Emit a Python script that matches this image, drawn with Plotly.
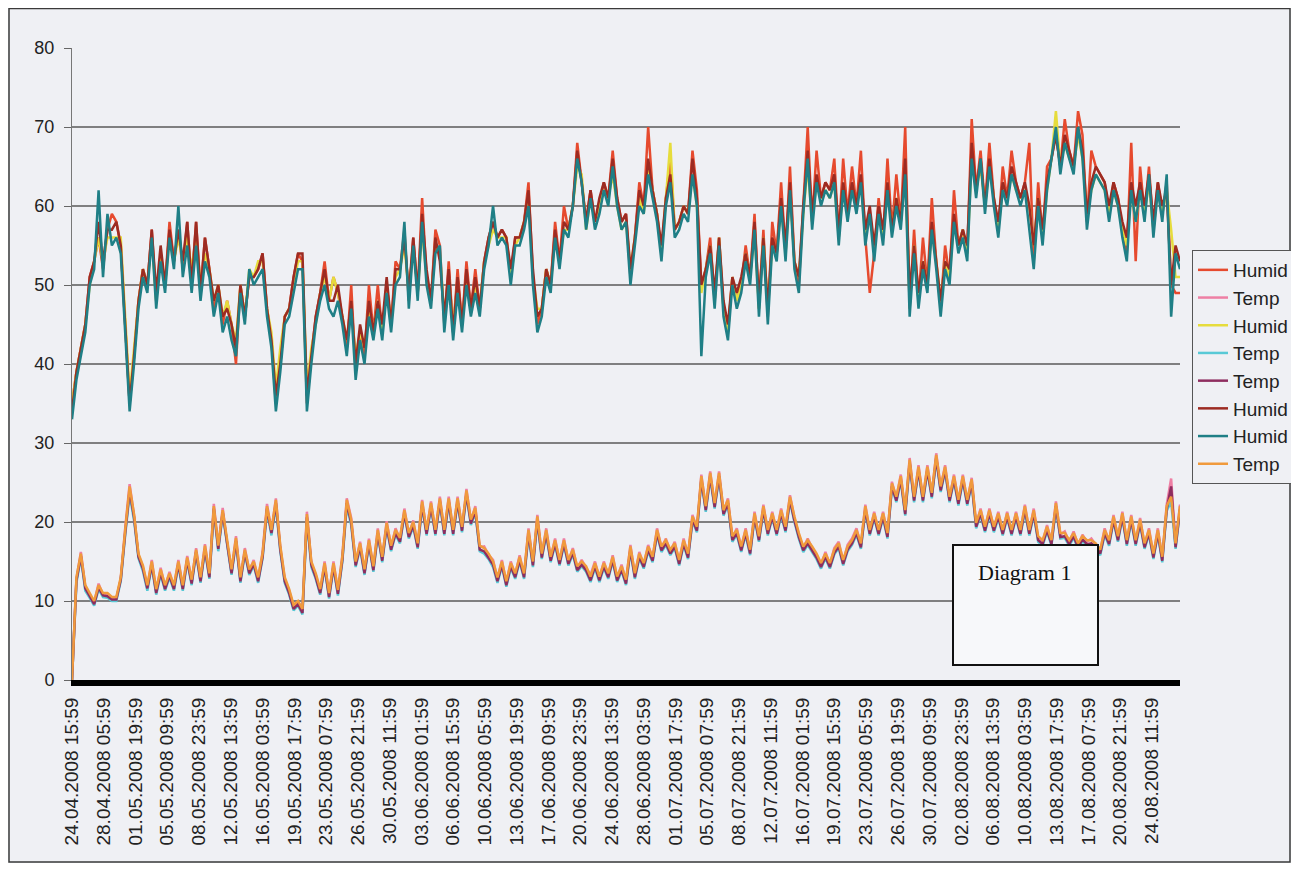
import pandas as pd
import plotly.graph_objects as go

tick_labels = [
    "24.04.2008 15:59", "28.04.2008 05:59", "01.05.2008 19:59", "05.05.2008 09:59",
    "08.05.2008 23:59", "12.05.2008 13:59", "16.05.2008 03:59", "19.05.2008 17:59",
    "23.05.2008 07:59", "26.05.2008 21:59", "30.05.2008 11:59", "03.06.2008 01:59",
    "06.06.2008 15:59", "10.06.2008 05:59", "13.06.2008 19:59", "17.06.2008 09:59",
    "20.06.2008 23:59", "24.06.2008 13:59", "28.06.2008 03:59", "01.07.2008 17:59",
    "05.07.2008 07:59", "08.07.2008 21:59", "12.07.2008 11:59", "16.07.2008 01:59",
    "19.07.2008 15:59", "23.07.2008 05:59", "26.07.2008 19:59", "30.07.2008 09:59",
    "02.08.2008 23:59", "06.08.2008 13:59", "10.08.2008 03:59", "13.08.2008 17:59",
    "17.08.2008 07:59", "20.08.2008 21:59", "24.08.2008 11:59",
]

y_ticks = [0, 10, 20, 30, 40, 50, 60, 70, 80]
grid_levels = [10, 20, 30, 40, 50, 60, 70]

hum_red = [
    35, 39, 42, 45, 51, 53, 56, 52, 57, 59,
    58, 55, 45, 35, 41, 48, 52, 50, 57, 48,
    54, 50, 58, 53, 57, 52, 58, 50, 58, 49,
    56, 52, 47, 50, 45, 48, 45, 40, 50, 46,
    51, 51, 52, 54, 47, 43, 35, 40, 46, 47,
    51, 54, 53, 35, 41, 46, 49, 53, 48, 51,
    49, 46, 42, 50, 39, 44, 41, 50, 44, 50,
    44, 50, 45, 53, 52, 57, 48, 56, 49, 61,
    51, 48, 57, 55, 45, 53, 44, 52, 45, 53,
    47, 52, 47, 53, 56, 58, 56, 57, 56, 51,
    56, 56, 58, 63, 51, 45, 47, 52, 50, 58,
    53, 60, 57, 60, 68, 63, 58, 62, 58, 60,
    63, 61, 67, 61, 58, 59, 51, 56, 63, 60,
    70, 62, 59, 54, 61, 66, 57, 58, 60, 59,
    67, 62, 50, 52, 56, 48, 56, 47, 44, 51,
    48, 50, 55, 51, 59, 47, 57, 46, 58, 54,
    63, 54, 65, 53, 50, 60, 70, 58, 67, 61,
    63, 62, 66, 56, 66, 59, 65, 60, 67, 56,
    49, 54, 61, 56, 66, 57, 64, 58, 70, 47,
    57, 48, 56, 50, 61, 53, 47, 55, 51, 62,
    55, 57, 54, 71, 62, 67, 60, 68, 61, 57,
    65, 61, 67, 63, 61, 63, 68, 53, 63, 56,
    65, 66, 69, 65, 71, 67, 65, 72, 69, 58,
    67, 65, 64, 63, 59, 63, 61, 57, 54, 68,
    53, 65, 59, 65, 57, 63, 59, 63, 50, 49,
    49,
]

temp_pink = [
    0, 12.8, 16.2, 11.8, 10.8, 9.8, 12.2, 10.8, 10.8, 10.3,
    10.3, 12.8, 19.2, 24.8, 20.8, 15.8, 14.3, 11.8, 15.2, 11.3,
    14.2, 11.8, 13.7, 11.8, 15.2, 11.8, 15.7, 12.5, 16.7, 12.8,
    17.2, 13.3, 22.3, 16.8, 21.8, 17.3, 13.8, 18.2, 12.8, 16.7,
    13.8, 15.2, 12.8, 16.2, 22.3, 18.8, 23, 16.8, 12.8, 11.3,
    9.3, 9.8, 8.8, 21.3, 14.8, 13.3, 11.3, 15, 10.8, 15,
    11.2, 15.8, 23, 20.5, 14.8, 17.5, 13.8, 17.9, 14.2, 19.2,
    15.4, 20.1, 16.8, 19.2, 17.8, 21.7, 18.4, 20.2, 17.1, 22.8,
    18.8, 22.6, 18.8, 23.2, 18.8, 23.2, 18.8, 23.2, 19.2, 24.2,
    20.1, 22, 16.8, 16.9, 15.8, 15.2, 12.8, 15.2, 12.3, 15,
    13.3, 15.8, 13.3, 19.2, 14.8, 20.9, 15.8, 19.2, 15.4, 17.9,
    15, 17.9, 15, 16.7, 14.2, 15.2, 14.2, 13.3, 15, 12.9,
    15, 13.3, 15.8, 12.9, 14.6, 12.5, 17.1, 13.3, 16.2, 14.6,
    17.1, 15.4, 19.2, 16.7, 17.9, 16.3, 17.5, 15, 17.9, 15.8,
    20.9, 19.2, 26, 21.8, 26.4, 22.2, 26.4, 21.3, 23, 18,
    19.2, 16.7, 19.2, 16.3, 21.3, 18, 22.2, 18.8, 21.3, 18.8,
    21.7, 19.2, 23.4, 20.5, 18.4, 16.7, 17.9, 16.7, 15.8, 14.6,
    16.2, 14.6, 16.7, 17.5, 15, 17.1, 17.9, 19.2, 17.1, 22.2,
    18.8, 21.3, 18.8, 21.3, 18.4, 25.1, 23, 26, 21.3, 28.1,
    23, 27.2, 23, 27.2, 23.5, 28.7, 24.3, 27.2, 23, 26,
    22.6, 26, 22.6, 25.6, 19.7, 21.7, 19.2, 21.7, 19.2, 21.3,
    18.8, 21.3, 18.8, 21.3, 18.8, 22.2, 18.8, 21.7, 18, 17.5,
    19.6, 17.5, 22.6, 18.4, 18.8, 17.5, 18.8, 17.1, 18.4, 17.5,
    17.9, 17.1, 16.3, 19.2, 17.5, 20.9, 18, 21.3, 17.5, 20.9,
    17.5, 20.5, 17.1, 19.2, 15.8, 19.2, 15.4, 22.2, 25.5, 17.1,
    22.2,
]

hum_yellow = [
    35, 39, 42, 45, 50, 53, 56, 53, 56, 56,
    56, 56, 46, 36, 42, 48, 52, 50, 56, 48,
    54, 50, 56, 53, 56, 53, 56, 52, 56, 50,
    54, 52, 48, 50, 46, 48, 45, 43, 50, 46,
    52, 51, 53, 53, 47, 44, 37, 42, 46, 47,
    50, 53, 53, 37, 42, 45, 49, 51, 48, 51,
    49, 46, 43, 47, 41, 44, 42, 47, 44, 48,
    44, 50, 45, 51, 52, 55, 49, 55, 49, 57,
    51, 48, 55, 54, 46, 51, 45, 50, 45, 51,
    47, 50, 47, 53, 55, 57, 56, 56, 56, 51,
    55, 56, 58, 61, 51, 47, 47, 52, 50, 56,
    53, 57, 57, 60, 65, 64, 57, 61, 58, 60,
    62, 61, 64, 60, 57, 58, 52, 56, 61, 59,
    65, 62, 59, 54, 61, 68, 57, 58, 60, 59,
    64, 60, 49, 52, 55, 48, 56, 47, 44, 51,
    48, 50, 54, 51, 57, 47, 56, 47, 55, 54,
    60, 54, 62, 53, 51, 59, 65, 58, 63, 61,
    62, 61, 63, 56, 62, 59, 62, 60, 63, 56,
    59, 55, 59, 56, 62, 57, 61, 58, 64, 48,
    55, 48, 53, 50, 57, 53, 48, 53, 51, 58,
    55, 57, 54, 66, 62, 65, 60, 65, 61, 57,
    62, 61, 64, 62, 61, 62, 60, 55, 61, 56,
    62, 66, 72, 65, 68, 66, 65, 69, 66, 59,
    62, 64, 63, 62, 59, 62, 60, 57, 55, 62,
    58, 62, 59, 63, 57, 62, 59, 62, 57, 51,
    51,
]

temp_cyan = [
    0, 12.3, 15.5, 11.3, 10.4, 9.4, 11.5, 10.5, 10.4, 10,
    10, 12.5, 18.3, 23.5, 20.2, 15.4, 13.8, 11.3, 14.4, 10.8,
    13.4, 11.3, 13, 11.3, 14.5, 11.3, 15, 12, 16, 12.3,
    16.4, 12.8, 21.4, 16.3, 21, 16.8, 13.3, 17.4, 12.3, 16,
    13.3, 14.5, 12.3, 15.4, 21.4, 18.3, 22, 16.3, 12.3, 10.8,
    8.8, 9.4, 8.3, 20.2, 14.3, 12.8, 10.8, 14.2, 10.3, 14.2,
    10.7, 15, 22, 19.6, 14.3, 16.7, 13.3, 17.1, 13.7, 18.4,
    14.9, 19.3, 16.3, 18.4, 17.3, 20.9, 17.9, 19.4, 16.6, 21.9,
    18.3, 21.8, 18.3, 22.4, 18.3, 22.4, 18.3, 22.4, 18.7, 23.4,
    19.6, 21.2, 16.3, 16, 15.3, 14.3, 12.3, 14.4, 11.8, 14.2,
    12.8, 15, 12.8, 18.3, 14.3, 20, 15.3, 18.4, 14.9, 17.1,
    14.5, 17.1, 14.5, 15.9, 13.7, 14.4, 13.7, 12.4, 14.2, 12.4,
    14.2, 12.8, 15, 12.4, 13.8, 12, 16.3, 12.8, 15.4, 14.1,
    16.3, 14.9, 18.4, 16.2, 17.1, 15.8, 16.7, 14.5, 17.1, 15.3,
    20.1, 18.7, 25.2, 21.3, 25.6, 21.7, 25.6, 20.8, 22.2, 17.5,
    18.4, 16.2, 18.4, 15.8, 20.5, 17.5, 21.4, 18.3, 20.5, 18.3,
    20.9, 18.7, 22.6, 20, 17.9, 16.2, 17.1, 16.2, 15.3, 14.1,
    15.4, 14.1, 15.9, 16.7, 14.5, 16.3, 17.1, 18.4, 16.6, 21.4,
    18.3, 20.5, 18.3, 20.5, 17.9, 24.3, 22.5, 25.2, 20.8, 27.3,
    22.5, 26.4, 22.5, 26.4, 23, 27.9, 23.8, 26.4, 22.5, 25.2,
    22.1, 25.2, 22.1, 24.8, 19.2, 20.9, 18.7, 20.9, 18.7, 20.5,
    18.3, 20.5, 18.3, 20.5, 18.3, 21.4, 18.3, 20.9, 17.5, 17,
    18.8, 17, 21.8, 17.9, 18, 17, 18, 16.6, 17.6, 17,
    17.1, 16.6, 15.8, 18.4, 17, 20.1, 17.5, 20.5, 17, 20.1,
    17, 19.7, 16.6, 18.4, 15.3, 18.4, 14.9, 21.4, 22.6, 16.6,
    21.4,
]

temp_purple = [
    0, 12.6, 15.7, 11.6, 10.6, 9.6, 11.7, 10.7, 10.6, 10.2,
    10.2, 12.7, 18.6, 24, 20.6, 15.6, 14.1, 11.6, 14.6, 11,
    13.6, 11.5, 13.2, 11.5, 14.7, 11.5, 15.2, 12.2, 16.2, 12.5,
    16.6, 13, 21.7, 16.6, 21.2, 17, 13.5, 17.6, 12.5, 16.2,
    13.5, 14.7, 12.5, 15.6, 21.7, 18.6, 22.4, 16.5, 12.5, 11,
    9, 9.6, 8.5, 20.6, 14.6, 13, 11, 14.4, 10.5, 14.4,
    10.9, 15.2, 22.4, 19.9, 14.5, 16.9, 13.5, 17.3, 13.9, 18.6,
    15.1, 19.5, 16.5, 18.6, 17.5, 21.1, 18.1, 19.6, 16.8, 22.2,
    18.5, 22, 18.5, 22.6, 18.5, 22.6, 18.5, 22.6, 18.9, 23.6,
    19.8, 21.4, 16.5, 16.3, 15.5, 14.6, 12.5, 14.6, 12, 14.4,
    13, 15.2, 13, 18.6, 14.5, 20.3, 15.5, 18.6, 15.1, 17.3,
    14.7, 17.3, 14.7, 16.1, 13.9, 14.6, 13.9, 12.6, 14.4, 12.6,
    14.4, 13, 15.2, 12.6, 14, 12.2, 16.5, 13, 15.6, 14.3,
    16.5, 15.1, 18.6, 16.4, 17.3, 16, 16.9, 14.7, 17.3, 15.5,
    20.3, 18.9, 25.4, 21.5, 25.8, 21.9, 25.8, 21, 22.4, 17.7,
    18.6, 16.4, 18.6, 16, 20.7, 17.7, 21.6, 18.5, 20.7, 18.5,
    21.1, 18.9, 22.8, 20.2, 18.1, 16.4, 17.3, 16.4, 15.5, 14.3,
    15.6, 14.3, 16.1, 16.9, 14.7, 16.5, 17.3, 18.6, 16.8, 21.6,
    18.5, 20.7, 18.5, 20.7, 18.1, 24.5, 22.7, 25.4, 21, 27.5,
    22.7, 26.6, 22.7, 26.6, 23.2, 28.1, 24, 26.6, 22.7, 25.4,
    22.3, 25.4, 22.3, 25, 19.4, 21.1, 18.9, 21.1, 18.9, 20.7,
    18.5, 20.7, 18.5, 20.7, 18.5, 21.6, 18.5, 21.1, 17.7, 17.2,
    19, 17.2, 22, 18.1, 18.2, 17.2, 18.2, 16.8, 17.8, 17.2,
    17.3, 16.8, 16, 18.6, 17.2, 20.3, 17.7, 20.7, 17.2, 20.3,
    17.2, 19.9, 16.8, 18.6, 15.5, 18.6, 15.1, 21.6, 24.5, 16.8,
    21.6,
]

hum_darkred = [
    34, 39, 42, 45, 51, 53, 58, 53, 57, 57,
    58, 55, 45, 35, 41, 48, 52, 50, 57, 49,
    55, 50, 57, 53, 57, 53, 58, 50, 58, 49,
    56, 52, 48, 50, 46, 47, 45, 42, 50, 46,
    51, 51, 52, 54, 47, 43, 36, 40, 46, 47,
    51, 54, 54, 36, 41, 46, 49, 52, 48, 48,
    50, 46, 43, 48, 40, 45, 42, 48, 44, 48,
    45, 51, 45, 52, 52, 56, 49, 56, 49, 59,
    52, 48, 56, 53, 46, 52, 44, 51, 45, 52,
    47, 51, 47, 53, 56, 58, 56, 57, 56, 52,
    56, 56, 58, 62, 52, 46, 47, 52, 50, 57,
    53, 58, 57, 60, 67, 63, 58, 62, 58, 61,
    63, 61, 66, 61, 58, 59, 52, 56, 62, 60,
    66, 62, 59, 55, 61, 64, 57, 58, 60, 59,
    66, 61, 50, 52, 55, 49, 56, 48, 45, 51,
    49, 51, 54, 51, 58, 48, 56, 47, 56, 54,
    61, 55, 63, 53, 51, 60, 67, 59, 64, 61,
    63, 62, 64, 57, 63, 59, 63, 60, 64, 57,
    60, 55, 60, 57, 63, 57, 61, 58, 66, 49,
    55, 49, 53, 50, 58, 53, 48, 53, 52, 59,
    55, 57, 55, 68, 62, 66, 60, 66, 61, 58,
    63, 61, 65, 63, 61, 63, 60, 55, 61, 57,
    63, 66, 69, 65, 69, 67, 65, 70, 67, 59,
    63, 65, 64, 63, 60, 63, 61, 58, 56, 63,
    60, 63, 60, 64, 58, 63, 60, 62, 50, 55,
    53,
]

hum_teal = [
    33, 38, 41, 44, 50, 52, 62, 51, 59, 55,
    56, 54, 44, 34, 40, 47, 51, 49, 56, 47,
    53, 49, 56, 52, 60, 51, 55, 49, 55, 48,
    53, 51, 46, 49, 44, 46, 43, 41, 49, 45,
    52, 50, 51, 52, 46, 42, 34, 39, 45, 46,
    49, 52, 52, 34, 40, 45, 48, 50, 47, 46,
    48, 45, 41, 47, 38, 43, 40, 46, 43, 47,
    43, 49, 44, 50, 51, 58, 47, 55, 48, 58,
    50, 47, 54, 55, 44, 50, 43, 49, 44, 50,
    46, 49, 46, 52, 55, 60, 55, 56, 55, 50,
    55, 55, 57, 60, 50, 44, 46, 51, 49, 56,
    52, 57, 56, 60, 66, 63, 57, 61, 57, 59,
    62, 60, 65, 60, 57, 58, 50, 55, 60, 59,
    64, 61, 58, 53, 60, 63, 56, 57, 59, 58,
    64, 60, 41, 51, 54, 47, 55, 46, 43, 50,
    47, 49, 53, 50, 57, 46, 55, 45, 55, 53,
    60, 53, 62, 52, 49, 59, 66, 57, 63, 60,
    62, 61, 63, 55, 62, 58, 62, 59, 63, 55,
    59, 53, 59, 55, 62, 56, 60, 57, 64, 46,
    54, 47, 52, 49, 57, 52, 46, 52, 50, 58,
    54, 56, 53, 66, 61, 66, 59, 65, 60, 56,
    62, 60, 64, 62, 60, 62, 57, 52, 60, 55,
    62, 66, 70, 64, 68, 66, 64, 70, 66, 57,
    62, 64, 63, 62, 58, 62, 60, 56, 53, 62,
    58, 62, 58, 64, 56, 62, 58, 64, 46, 54,
    52,
]

temp_orange = [
    0, 13, 16, 12, 11, 10, 12, 11, 11, 10.5,
    10.5, 13, 19, 24.5, 21, 16, 14.5, 12, 15, 11.5,
    14, 12, 13.5, 12, 15, 12, 15.5, 12.7, 16.5, 13,
    17, 13.5, 22, 17, 21.5, 17.5, 14, 18, 13, 16.5,
    14, 15, 13, 16, 22, 19, 22.8, 17, 13, 11.5,
    9.5, 10, 9, 21, 15, 13.5, 11.5, 14.8, 11, 14.8,
    11.4, 15.6, 22.8, 20.3, 15, 17.3, 14, 17.7, 14.4, 19,
    15.6, 19.9, 17, 19, 18, 21.5, 18.6, 20, 17.3, 22.6,
    19, 22.4, 19, 23, 19, 23, 19, 23, 19.4, 24,
    20.3, 21.8, 17, 16.7, 16, 15, 13, 15, 12.5, 14.8,
    13.5, 15.6, 13.5, 19, 15, 20.7, 16, 19, 15.6, 17.7,
    15.2, 17.7, 15.2, 16.5, 14.4, 15, 14.4, 13.1, 14.8, 13.1,
    14.8, 13.5, 15.6, 13.1, 14.4, 12.7, 16.9, 13.5, 16, 14.8,
    16.9, 15.6, 19, 16.9, 17.7, 16.5, 17.3, 15.2, 17.7, 16,
    20.7, 19.4, 25.8, 22, 26.2, 22.4, 26.2, 21.5, 22.8, 18.2,
    19, 16.9, 19, 16.5, 21.1, 18.2, 22, 19, 21.1, 19,
    21.5, 19.4, 23.2, 20.7, 18.6, 16.9, 17.7, 16.9, 16, 14.8,
    16, 14.8, 16.5, 17.3, 15.2, 16.9, 17.7, 19, 17.3, 22,
    19, 21.1, 19, 21.1, 18.6, 24.9, 23.2, 25.8, 21.5, 27.9,
    23.2, 27, 23.2, 27, 23.7, 28.5, 24.5, 27, 23.2, 25.8,
    22.8, 25.8, 22.8, 25.4, 19.9, 21.5, 19.4, 21.5, 19.4, 21.1,
    19, 21.1, 19, 21.1, 19, 22, 19, 21.5, 18.2, 17.7,
    19.4, 17.7, 22.4, 18.6, 18.6, 17.7, 18.6, 17.3, 18.2, 17.7,
    17.7, 17.3, 16.5, 19, 17.7, 20.7, 18.2, 21.1, 17.7, 20.7,
    17.7, 20.3, 17.3, 19, 16, 19, 15.6, 22, 23.2, 17.3,
    22,
]

series = [
    ("Humid", hum_red, "#e64a2e"),
    ("Temp", temp_pink, "#ee7fa4"),
    ("Humid", hum_yellow, "#e6dc3c"),
    ("Temp", temp_cyan, "#58c9d6"),
    ("Temp", temp_purple, "#8e2d5f"),
    ("Humid", hum_darkred, "#9c2b22"),
    ("Humid", hum_teal, "#1f7f86"),
    ("Temp", temp_orange, "#f09a3c"),
]
for _, vals, _c in series:
    assert len(vals) == len(hum_teal), (len(vals), len(hum_teal))

times = pd.date_range("2008-04-24 15:59", periods=len(hum_teal), freq="12h")
tick_pos = pd.to_datetime(tick_labels, format="%d.%m.%Y %H:%M")

# figure geometry (figure pixels; the page adds an 8px body margin)
W, H = 1283, 855
L, R, T, B = 64, 111, 40, 183
PW, PH = W - L - R, H - T - B


def px(x):
    return (x - L) / PW


def py(y):
    return (T + PH - y) / PH


BG = "#eff0f4"
FONT = "Liberation Sans, Arial, sans-serif"

fig = go.Figure()
for name, vals, color in series:
    fig.add_trace(go.Scatter(x=times, y=vals, mode="lines", name=name,
                             line=dict(color=color, width=2.5)))

for lv in grid_levels:
    fig.add_shape(type="line", xref="paper", yref="y", x0=0, x1=1, y0=lv, y1=lv,
                  line=dict(color="#5a5a5a", width=1.5), layer="below")

# outer chart-area border
fig.add_shape(type="rect", xref="paper", yref="paper",
              x0=px(1), x1=px(1282), y0=py(854), y1=py(0.5),
              line=dict(color="#3a3a3a", width=1.5), fillcolor="rgba(0,0,0,0)", layer="above")

# "Diagram 1" text box
fig.add_shape(type="rect", xref="paper", yref="paper",
              x0=px(945), x1=px(1090), y0=py(657), y1=py(537),
              line=dict(color="#111111", width=2), fillcolor="#f7f8fa", layer="above")
fig.add_annotation(text="Diagram 1", xref="paper", yref="paper",
                   x=px(1016), y=py(564), xanchor="center", yanchor="middle",
                   showarrow=False,
                   font=dict(family="Liberation Serif, Times New Roman, serif", size=22, color="#111111"))

fig.update_layout(
    width=W, height=H,
    margin=dict(l=L, r=R, t=T, b=B, autoexpand=False),
    paper_bgcolor=BG, plot_bgcolor=BG,
    font=dict(family=FONT, color="#222222"),
    showlegend=True,
    legend=dict(x=px(1184), y=py(242), xanchor="left", yanchor="top",
                bgcolor=BG, bordercolor="#555555", borderwidth=1,
                font=dict(family=FONT, size=19, color="#222222"),
                tracegroupgap=0),
    xaxis=dict(type="date", range=[times[0], times[-1]],
               tickmode="array", tickvals=list(tick_pos), ticktext=tick_labels,
               tickangle=-90, ticks="", showgrid=False, zeroline=False,
               showline=True, linecolor="#000000", linewidth=6,
               tickfont=dict(family=FONT, size=19, color="#222222"),
               ticklabelstandoff=4),
    yaxis=dict(range=[0, 80], tickmode="array", tickvals=y_ticks,
               ticktext=[str(v) for v in y_ticks],
               showgrid=False, zeroline=False,
               showline=True, linecolor="#777777", linewidth=1,
               ticks="outside", ticklen=7, tickcolor="#666666", tickwidth=1,
               tickfont=dict(family=FONT, size=18, color="#222222"),
               ticklabelstandoff=6),
)

fig.write_html("out.html")
